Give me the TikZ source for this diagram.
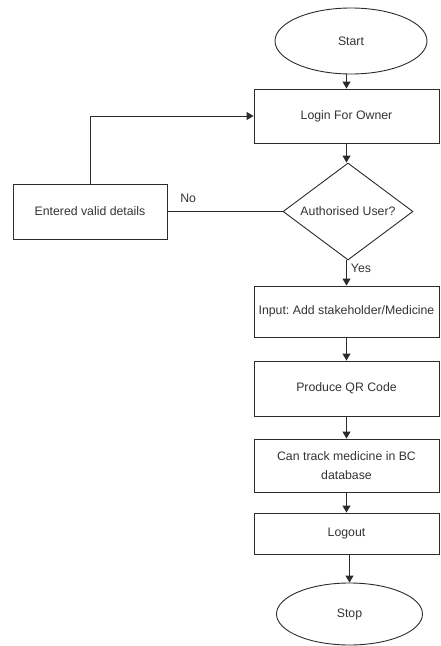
\documentclass[tikz,border=0pt]{standalone}
\usepackage{fontspec}
\setmainfont{Liberation Sans}
\usetikzlibrary{shapes.geometric,arrows.meta}
\definecolor{ink}{HTML}{2B2B2B}
\definecolor{txt}{HTML}{333333}
\frenchspacing
\begin{document}
\begin{tikzpicture}[x=1pt,y=-1pt,
  every node/.style={font=\fontsize{12.3}{19}\selectfont,text=txt},
  base/.style={draw=ink,line width=0.9pt,inner sep=0pt},
  terminal/.style={base,ellipse},
  procbox/.style={base,rectangle,minimum width=185pt,align=center},
  decision/.style={base,diamond,minimum width=130pt,minimum height=97pt,aspect=1.34},
  flow/.style={draw=ink,line width=0.9pt,-{Triangle[length=7pt,width=8pt]}},
  link/.style={draw=ink,line width=0.9pt},
  tag/.style={inner sep=0pt}]
\useasboundingbox (0,0) rectangle (440,646);

% main column
\node[terminal,minimum width=152pt,minimum height=66pt] (start) at (351,41) {Start};
\node[procbox,minimum height=54pt] (login) at (346.5,116) {Login For Owner};
\node[decision] (auth) at (348,211.5) {Authorised User?};
\node[procbox,minimum height=51pt] (input) at (346.5,311.5) {Input: Add stakeholder/Medicine};
\node[procbox,minimum height=55pt] (qr) at (346.5,388.5) {Produce QR Code};
\node[procbox,minimum height=53pt] (track) at (346.5,465.5) {Can track medicine in BC\\database};
\node[procbox,minimum height=41pt] (logout) at (346.5,533.5) {Logout};
\node[terminal,minimum width=146pt,minimum height=62pt] (stop) at (349.5,614) {Stop};

% retry branch
\node[base,rectangle,minimum width=154pt,minimum height=55pt] (retry) at (90,211.5) {Entered valid details};
\coordinate (corner) at (90,116);

% connectors
\draw[flow] (start.south -| login.north) -- (login.north);
\draw[flow] (login.south) -- (login.south |- auth.north);
\draw[flow] (auth.south -| input.north) -- node[tag,right=4pt,pos=0.3] {Yes} (input.north);
\draw[flow] (input.south) -- (qr.north);
\draw[flow] (qr.south) -- (track.north);
\draw[flow] (track.south) -- (logout.north);
\draw[flow] (logout.south -| stop.north) -- (stop.north);
\draw[link] (auth.west) -- node[tag,pos=0.82,above=8pt] {No} (retry.east);
\draw[flow] (retry.north) -- (corner) -- (login.west);
\end{tikzpicture}
\end{document}
